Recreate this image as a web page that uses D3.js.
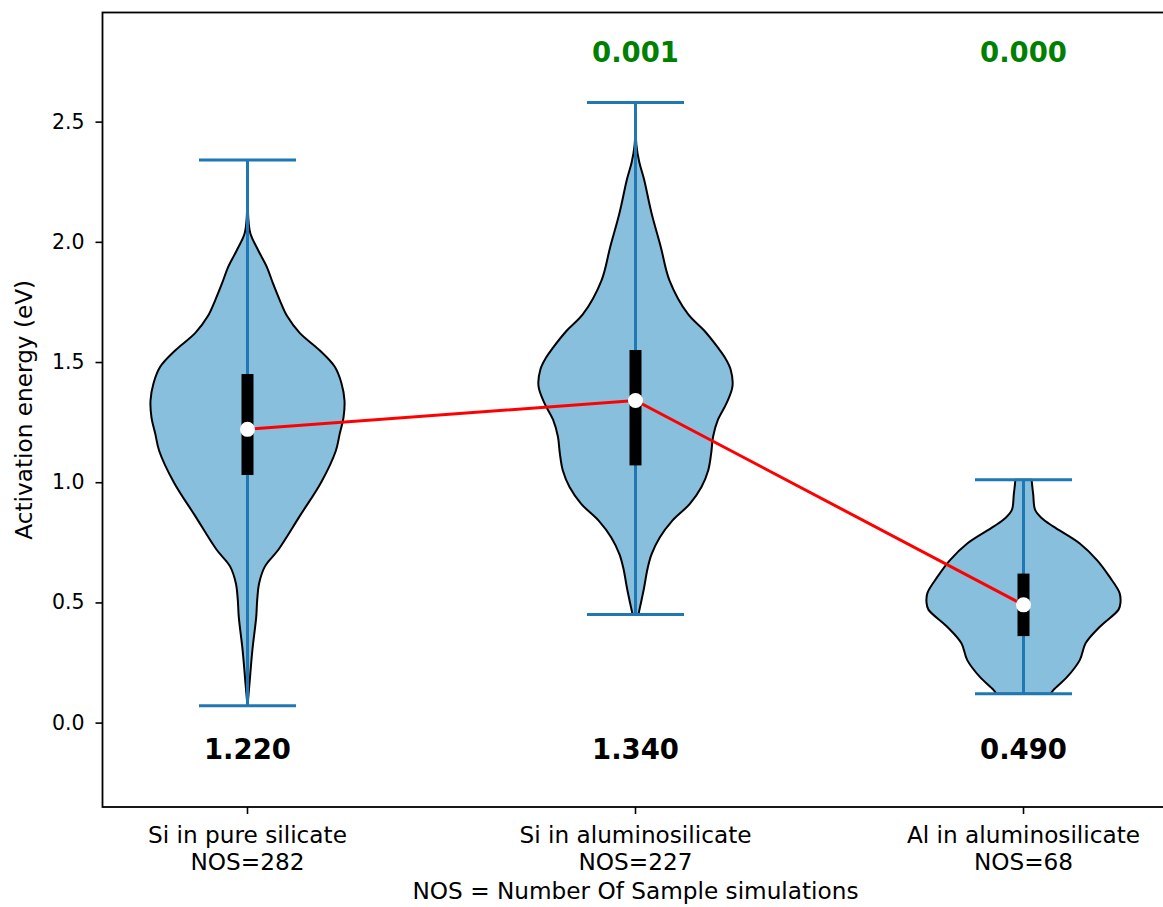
<!DOCTYPE html>
<html>
<head>
<meta charset="utf-8">
<script src="https://cdn.jsdelivr.net/npm/d3@7"></script>
<style>
  html, body { margin: 0; padding: 0; background: #fff; }
  svg { display: block; font-family: "DejaVu Sans", sans-serif; }
</style>
</head>
<body>
<svg id="chart" width="1163" height="907"></svg>
<script>
// ---------------- data ----------------
const categories = ["Si in pure silicate", "Si in aluminosilicate", "Al in aluminosilicate"];
const nosCounts = [282, 227, 68];
const medians = [1.22, 1.34, 0.49];
const quartile1 = [1.03, 1.07, 0.36];
const quartile3 = [1.45, 1.55, 0.62];
const minima = [0.07, 0.45, 0.12];
const maxima = [2.34, 2.58, 1.01];
const pValueLabels = ["", "0.001", "0.000"];
const yTickValues = [0.0, 0.5, 1.0, 1.5, 2.0, 2.5];

// violin outlines: energy grid (eV) and relative density (max = 1)
const siPureEnergy  = [0.07, 0.16, 0.30, 0.44, 0.51, 0.58, 0.65, 0.72, 0.86, 1.00, 1.13, 1.20, 1.27, 1.34, 1.41, 1.48, 1.55, 1.62, 1.69, 1.76, 1.83, 1.895, 1.965, 2.035, 2.10, 2.20, 2.34];
const siPureDensity = [0.00, 0.02, 0.05, 0.09, 0.10, 0.12, 0.18, 0.32, 0.54, 0.76, 0.91, 0.95, 0.99, 1.00, 0.97, 0.90, 0.74, 0.54, 0.41, 0.33, 0.26, 0.20, 0.11, 0.03, 0.008, 0.003, 0.00];

const siAluEnergy  = [0.45, 0.50, 0.56, 0.64, 0.70, 0.77, 0.84, 0.91, 0.98, 1.05, 1.12, 1.19, 1.26, 1.33, 1.40, 1.47, 1.52, 1.56, 1.63, 1.70, 1.84, 1.98, 2.12, 2.26, 2.33, 2.40, 2.58];
const siAluDensity = [0.03, 0.057, 0.088, 0.124, 0.165, 0.25, 0.38, 0.56, 0.68, 0.75, 0.78, 0.80, 0.85, 0.94, 1.00, 0.98, 0.92, 0.85, 0.71, 0.54, 0.35, 0.26, 0.165, 0.088, 0.04, 0.01, 0.00];

const alAluEnergy  = [0.12, 0.136, 0.19, 0.26, 0.33, 0.40, 0.47, 0.50, 0.54, 0.605, 0.675, 0.745, 0.815, 0.85, 0.885, 0.95, 1.00, 1.01];
const alAluDensity = [0.28, 0.31, 0.45, 0.58, 0.64, 0.79, 0.98, 1.00, 0.99, 0.89, 0.76, 0.58, 0.31, 0.19, 0.12, 0.10, 0.086, 0.085];

const violinEnergy = [siPureEnergy, siAluEnergy, alAluEnergy];
const violinDensity = [siPureDensity, siAluDensity, alAluDensity];

// ---------------- layout ----------------
const svg = d3.select("#chart");
const plotLeft = 102.5, plotTop = 12.5, plotBottom = 807;
const x = d3.scaleLinear().domain([0.6263, 3.3737]).range([plotLeft, 1168.5]);
const y = d3.scaleLinear().domain([-0.351, 2.954]).range([plotBottom, plotTop]);
const halfWidth = x(1.25) - x(1);       // violin widths = 0.5
const capHalf = x(1.125) - x(1);

const blue = "#1f77b4";
const fill = "#88bfdc";

// violins
const area = d3.area()
  .y(d => y(d.e))
  .x0(d => d.c - halfWidth * d.w)
  .x1(d => d.c + halfWidth * d.w)
  .curve(d3.curveCatmullRom.alpha(0.5));

categories.forEach((cat, i) => {
  const c = x(i + 1);
  const pts = violinEnergy[i].map((e, k) => ({ e: e, w: violinDensity[i][k], c: c }));
  svg.append("path")
    .attr("d", area(pts))
    .attr("fill", fill)
    .attr("stroke", "#000")
    .attr("stroke-width", 2)
    .attr("stroke-linejoin", "round");
});

// whiskers + caps + quartile bars
categories.forEach((cat, i) => {
  const c = x(i + 1);
  svg.append("line").attr("x1", c).attr("x2", c)
    .attr("y1", y(minima[i])).attr("y2", y(maxima[i]))
    .attr("stroke", blue).attr("stroke-width", 3);
  [minima[i], maxima[i]].forEach(v => {
    svg.append("line").attr("x1", c - capHalf).attr("x2", c + capHalf)
      .attr("y1", y(v)).attr("y2", y(v))
      .attr("stroke", blue).attr("stroke-width", 3);
  });
  svg.append("rect")
    .attr("x", c - 6).attr("width", 12)
    .attr("y", y(quartile3[i])).attr("height", y(quartile1[i]) - y(quartile3[i]))
    .attr("fill", "#000");
});

// median connecting line
svg.append("path")
  .datum(medians)
  .attr("d", d3.line().x((d, i) => x(i + 1)).y(d => y(d)))
  .attr("fill", "none")
  .attr("stroke", "#ff0000")
  .attr("stroke-width", 3);

// median dots
svg.selectAll("circle.med").data(medians).enter().append("circle")
  .attr("cx", (d, i) => x(i + 1)).attr("cy", d => y(d))
  .attr("r", 7.5).attr("fill", "#fff");

// median value labels
svg.selectAll("text.medlab").data(medians).enter().append("text")
  .attr("x", (d, i) => x(i + 1)).attr("y", y(-0.15))
  .attr("text-anchor", "middle")
  .attr("font-size", 27.5).attr("font-weight", "bold")
  .attr("fill", "#000")
  .text(d => d.toFixed(3));

// p-value labels
svg.selectAll("text.plab").data(pValueLabels).enter().append("text")
  .attr("x", (d, i) => x(i + 1)).attr("y", y(2.75))
  .attr("text-anchor", "middle")
  .attr("font-size", 27.5).attr("font-weight", "bold")
  .attr("fill", "#008000")
  .text(d => d);

// y axis
const yAxis = d3.axisLeft(y).tickValues(yTickValues).tickFormat(d3.format(".1f"))
  .tickSize(7).tickSizeOuter(0).tickPadding(11);
const gy = svg.append("g").attr("transform", `translate(${plotLeft},0)`).call(yAxis);
gy.selectAll("text").attr("font-size", 20.5).attr("font-family", "DejaVu Sans").attr("fill", "#000");
gy.selectAll("line").attr("stroke", "#000").attr("stroke-width", 1.6);
gy.select(".domain").remove();

// x axis ticks (two-line labels)
const gx = svg.append("g");
categories.forEach((cat, i) => {
  const c = x(i + 1);
  gx.append("line").attr("x1", c).attr("x2", c).attr("y1", plotBottom).attr("y2", plotBottom + 7)
    .attr("stroke", "#000").attr("stroke-width", 1.6);
  gx.append("text").attr("x", c).attr("y", 842.5)
    .attr("text-anchor", "middle").attr("font-size", 23.2).attr("fill", "#000")
    .text(cat);
  gx.append("text").attr("x", c).attr("y", 869.5)
    .attr("text-anchor", "middle").attr("font-size", 23.2).attr("fill", "#000")
    .text("NOS=" + nosCounts[i]);
});

// spines
svg.append("rect")
  .attr("x", plotLeft).attr("y", plotTop)
  .attr("width", x(3.3737) - plotLeft).attr("height", plotBottom - plotTop)
  .attr("fill", "none").attr("stroke", "#000").attr("stroke-width", 1.8);

// axis labels
svg.append("text")
  .attr("x", x(2)).attr("y", 899)
  .attr("text-anchor", "middle").attr("font-size", 23.2).attr("fill", "#000")
  .text("NOS = Number Of Sample simulations");

svg.append("text")
  .attr("transform", `translate(32,${(plotTop + plotBottom) / 2}) rotate(-90)`)
  .attr("text-anchor", "middle").attr("font-size", 23.2).attr("fill", "#000")
  .text("Activation energy (eV)");
</script>
</body>
</html>
